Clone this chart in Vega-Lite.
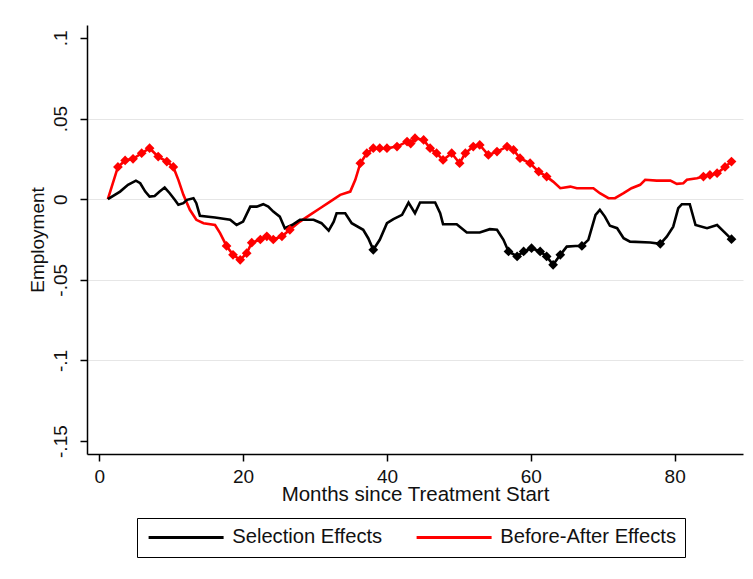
{
  "$schema": "https://vega.github.io/schema/vega-lite/v6.json",
  "width": 656,
  "height": 429,
  "autosize": "none",
  "padding": {"left": 87, "top": 25, "right": 10, "bottom": 125},
  "background": "white",
  "config": {
    "view": {"stroke": null},
    "font": "Liberation Sans",
    "axis": {
      "labelFont": "Liberation Sans",
      "titleFont": "Liberation Sans",
      "labelFontSize": 19,
      "titleFontSize": 20.5,
      "titleFontWeight": "normal",
      "labelColor": "#111111",
      "titleColor": "#111111",
      "domainColor": "#000000",
      "tickColor": "#000000",
      "domainWidth": 1.5,
      "tickWidth": 1.5,
      "tickSize": 7
    },
    "legend": {
      "labelFont": "Liberation Sans",
      "labelFontSize": 20.2,
      "labelColor": "#111111"
    }
  },
  "data": {
    "values": [
      {"series": "Before-After Effects", "month": 1.2, "value": 0, "sig": 0},
      {"series": "Before-After Effects", "month": 2.6, "value": 0.020, "sig": 1},
      {"series": "Before-After Effects", "month": 3.6, "value": 0.024, "sig": 1},
      {"series": "Before-After Effects", "month": 4.7, "value": 0.025, "sig": 1},
      {"series": "Before-After Effects", "month": 5.9, "value": 0.0285, "sig": 1},
      {"series": "Before-After Effects", "month": 7.0, "value": 0.0316, "sig": 1},
      {"series": "Before-After Effects", "month": 8.2, "value": 0.0264, "sig": 1},
      {"series": "Before-After Effects", "month": 9.4, "value": 0.0233, "sig": 1},
      {"series": "Before-After Effects", "month": 10.3, "value": 0.020, "sig": 1},
      {"series": "Before-After Effects", "month": 11.0, "value": 0.012, "sig": 0},
      {"series": "Before-After Effects", "month": 11.7, "value": 0.0027, "sig": 0},
      {"series": "Before-After Effects", "month": 12.6, "value": -0.0066, "sig": 0},
      {"series": "Before-After Effects", "month": 13.5, "value": -0.0128, "sig": 0},
      {"series": "Before-After Effects", "month": 14.5, "value": -0.0149, "sig": 0},
      {"series": "Before-After Effects", "month": 16.1, "value": -0.016, "sig": 0},
      {"series": "Before-After Effects", "month": 16.8, "value": -0.021, "sig": 0},
      {"series": "Before-After Effects", "month": 17.7, "value": -0.029, "sig": 1},
      {"series": "Before-After Effects", "month": 18.6, "value": -0.0345, "sig": 1},
      {"series": "Before-After Effects", "month": 19.6, "value": -0.0376, "sig": 1},
      {"series": "Before-After Effects", "month": 20.5, "value": -0.0335, "sig": 1},
      {"series": "Before-After Effects", "month": 21.2, "value": -0.027, "sig": 1},
      {"series": "Before-After Effects", "month": 22.4, "value": -0.025, "sig": 1},
      {"series": "Before-After Effects", "month": 23.3, "value": -0.023, "sig": 1},
      {"series": "Before-After Effects", "month": 24.2, "value": -0.025, "sig": 1},
      {"series": "Before-After Effects", "month": 25.4, "value": -0.023, "sig": 1},
      {"series": "Before-After Effects", "month": 26.5, "value": -0.019, "sig": 1},
      {"series": "Before-After Effects", "month": 27.9, "value": -0.0139, "sig": 0},
      {"series": "Before-After Effects", "month": 29.3, "value": -0.0097, "sig": 0},
      {"series": "Before-After Effects", "month": 30.7, "value": -0.0056, "sig": 0},
      {"series": "Before-After Effects", "month": 32.1, "value": -0.0015, "sig": 0},
      {"series": "Before-After Effects", "month": 33.5, "value": 0.0027, "sig": 0},
      {"series": "Before-After Effects", "month": 34.9, "value": 0.0047, "sig": 0},
      {"series": "Before-After Effects", "month": 35.6, "value": 0.012, "sig": 0},
      {"series": "Before-After Effects", "month": 36.3, "value": 0.0223, "sig": 1},
      {"series": "Before-After Effects", "month": 37.2, "value": 0.0285, "sig": 1},
      {"series": "Before-After Effects", "month": 38.1, "value": 0.0316, "sig": 1},
      {"series": "Before-After Effects", "month": 39.0, "value": 0.0316, "sig": 1},
      {"series": "Before-After Effects", "month": 40.0, "value": 0.0316, "sig": 1},
      {"series": "Before-After Effects", "month": 41.4, "value": 0.0326, "sig": 1},
      {"series": "Before-After Effects", "month": 42.8, "value": 0.0357, "sig": 1},
      {"series": "Before-After Effects", "month": 43.3, "value": 0.0345, "sig": 1},
      {"series": "Before-After Effects", "month": 43.9, "value": 0.0378, "sig": 1},
      {"series": "Before-After Effects", "month": 45.1, "value": 0.0367, "sig": 1},
      {"series": "Before-After Effects", "month": 46.0, "value": 0.0316, "sig": 1},
      {"series": "Before-After Effects", "month": 46.9, "value": 0.0285, "sig": 1},
      {"series": "Before-After Effects", "month": 47.8, "value": 0.0243, "sig": 1},
      {"series": "Before-After Effects", "month": 49.0, "value": 0.0285, "sig": 1},
      {"series": "Before-After Effects", "month": 50.1, "value": 0.0223, "sig": 1},
      {"series": "Before-After Effects", "month": 50.9, "value": 0.0285, "sig": 1},
      {"series": "Before-After Effects", "month": 52.0, "value": 0.0326, "sig": 1},
      {"series": "Before-After Effects", "month": 52.9, "value": 0.0336, "sig": 1},
      {"series": "Before-After Effects", "month": 54.1, "value": 0.0274, "sig": 1},
      {"series": "Before-After Effects", "month": 55.3, "value": 0.0295, "sig": 1},
      {"series": "Before-After Effects", "month": 56.7, "value": 0.0326, "sig": 1},
      {"series": "Before-After Effects", "month": 57.6, "value": 0.0305, "sig": 1},
      {"series": "Before-After Effects", "month": 58.5, "value": 0.0254, "sig": 1},
      {"series": "Before-After Effects", "month": 59.9, "value": 0.0223, "sig": 1},
      {"series": "Before-After Effects", "month": 61.1, "value": 0.0171, "sig": 1},
      {"series": "Before-After Effects", "month": 62.2, "value": 0.014, "sig": 1},
      {"series": "Before-After Effects", "month": 63.1, "value": 0.0109, "sig": 0},
      {"series": "Before-After Effects", "month": 64.1, "value": 0.0068, "sig": 0},
      {"series": "Before-After Effects", "month": 65.5, "value": 0.0078, "sig": 0},
      {"series": "Before-After Effects", "month": 66.4, "value": 0.0068, "sig": 0},
      {"series": "Before-After Effects", "month": 68.7, "value": 0.0068, "sig": 0},
      {"series": "Before-After Effects", "month": 69.6, "value": 0.0037, "sig": 0},
      {"series": "Before-After Effects", "month": 70.8, "value": 0.0006, "sig": 0},
      {"series": "Before-After Effects", "month": 71.7, "value": 0.0006, "sig": 0},
      {"series": "Before-After Effects", "month": 72.9, "value": 0.0037, "sig": 0},
      {"series": "Before-After Effects", "month": 74.0, "value": 0.0068, "sig": 0},
      {"series": "Before-After Effects", "month": 75.2, "value": 0.0089, "sig": 0},
      {"series": "Before-After Effects", "month": 75.9, "value": 0.012, "sig": 0},
      {"series": "Before-After Effects", "month": 77.5, "value": 0.0115, "sig": 0},
      {"series": "Before-After Effects", "month": 79.4, "value": 0.0115, "sig": 0},
      {"series": "Before-After Effects", "month": 80.3, "value": 0.0095, "sig": 0},
      {"series": "Before-After Effects", "month": 81.2, "value": 0.0099, "sig": 0},
      {"series": "Before-After Effects", "month": 81.7, "value": 0.012, "sig": 0},
      {"series": "Before-After Effects", "month": 83.1, "value": 0.013, "sig": 0},
      {"series": "Before-After Effects", "month": 84.0, "value": 0.014, "sig": 1},
      {"series": "Before-After Effects", "month": 84.9, "value": 0.015, "sig": 1},
      {"series": "Before-After Effects", "month": 85.9, "value": 0.0161, "sig": 1},
      {"series": "Before-After Effects", "month": 87.0, "value": 0.020, "sig": 1},
      {"series": "Before-After Effects", "month": 87.9, "value": 0.0233, "sig": 1},

      {"series": "Selection Effects", "month": 1.2, "value": 0, "sig": 0},
      {"series": "Selection Effects", "month": 2.9, "value": 0.0047, "sig": 0},
      {"series": "Selection Effects", "month": 4.0, "value": 0.0089, "sig": 0},
      {"series": "Selection Effects", "month": 5.1, "value": 0.0115, "sig": 0},
      {"series": "Selection Effects", "month": 5.7, "value": 0.0099, "sig": 0},
      {"series": "Selection Effects", "month": 6.4, "value": 0.0047, "sig": 0},
      {"series": "Selection Effects", "month": 7.0, "value": 0.0016, "sig": 0},
      {"series": "Selection Effects", "month": 7.7, "value": 0.002, "sig": 0},
      {"series": "Selection Effects", "month": 8.4, "value": 0.0047, "sig": 0},
      {"series": "Selection Effects", "month": 9.1, "value": 0.0072, "sig": 0},
      {"series": "Selection Effects", "month": 9.8, "value": 0.0037, "sig": 0},
      {"series": "Selection Effects", "month": 10.5, "value": -0.0004, "sig": 0},
      {"series": "Selection Effects", "month": 11.0, "value": -0.0035, "sig": 0},
      {"series": "Selection Effects", "month": 11.7, "value": -0.0025, "sig": 0},
      {"series": "Selection Effects", "month": 12.2, "value": -0.0004, "sig": 0},
      {"series": "Selection Effects", "month": 13.1, "value": 0.0006, "sig": 0},
      {"series": "Selection Effects", "month": 13.5, "value": -0.0025, "sig": 0},
      {"series": "Selection Effects", "month": 14.0, "value": -0.0103, "sig": 0},
      {"series": "Selection Effects", "month": 16.1, "value": -0.0114, "sig": 0},
      {"series": "Selection Effects", "month": 18.2, "value": -0.0128, "sig": 0},
      {"series": "Selection Effects", "month": 19.1, "value": -0.016, "sig": 0},
      {"series": "Selection Effects", "month": 20.0, "value": -0.0139, "sig": 0},
      {"series": "Selection Effects", "month": 21.0, "value": -0.0046, "sig": 0},
      {"series": "Selection Effects", "month": 21.9, "value": -0.0046, "sig": 0},
      {"series": "Selection Effects", "month": 22.8, "value": -0.0031, "sig": 0},
      {"series": "Selection Effects", "month": 23.5, "value": -0.0046, "sig": 0},
      {"series": "Selection Effects", "month": 24.2, "value": -0.0077, "sig": 0},
      {"series": "Selection Effects", "month": 25.1, "value": -0.0108, "sig": 0},
      {"series": "Selection Effects", "month": 25.8, "value": -0.018, "sig": 0},
      {"series": "Selection Effects", "month": 26.8, "value": -0.016, "sig": 0},
      {"series": "Selection Effects", "month": 27.9, "value": -0.0128, "sig": 0},
      {"series": "Selection Effects", "month": 29.8, "value": -0.0128, "sig": 0},
      {"series": "Selection Effects", "month": 30.9, "value": -0.0149, "sig": 0},
      {"series": "Selection Effects", "month": 31.9, "value": -0.0195, "sig": 0},
      {"series": "Selection Effects", "month": 32.6, "value": -0.0139, "sig": 0},
      {"series": "Selection Effects", "month": 33.0, "value": -0.0087, "sig": 0},
      {"series": "Selection Effects", "month": 34.2, "value": -0.0087, "sig": 0},
      {"series": "Selection Effects", "month": 35.1, "value": -0.0149, "sig": 0},
      {"series": "Selection Effects", "month": 36.7, "value": -0.019, "sig": 0},
      {"series": "Selection Effects", "month": 37.4, "value": -0.0242, "sig": 0},
      {"series": "Selection Effects", "month": 38.1, "value": -0.0314, "sig": 1},
      {"series": "Selection Effects", "month": 39.0, "value": -0.0252, "sig": 0},
      {"series": "Selection Effects", "month": 40.0, "value": -0.0149, "sig": 0},
      {"series": "Selection Effects", "month": 40.9, "value": -0.0124, "sig": 0},
      {"series": "Selection Effects", "month": 42.1, "value": -0.0097, "sig": 0},
      {"series": "Selection Effects", "month": 43.0, "value": -0.0021, "sig": 0},
      {"series": "Selection Effects", "month": 43.9, "value": -0.0087, "sig": 0},
      {"series": "Selection Effects", "month": 44.6, "value": -0.0021, "sig": 0},
      {"series": "Selection Effects", "month": 46.7, "value": -0.0021, "sig": 0},
      {"series": "Selection Effects", "month": 47.4, "value": -0.0087, "sig": 0},
      {"series": "Selection Effects", "month": 47.8, "value": -0.0155, "sig": 0},
      {"series": "Selection Effects", "month": 49.7, "value": -0.0155, "sig": 0},
      {"series": "Selection Effects", "month": 51.1, "value": -0.0207, "sig": 0},
      {"series": "Selection Effects", "month": 52.9, "value": -0.0207, "sig": 0},
      {"series": "Selection Effects", "month": 54.3, "value": -0.0186, "sig": 0},
      {"series": "Selection Effects", "month": 55.3, "value": -0.019, "sig": 0},
      {"series": "Selection Effects", "month": 56.2, "value": -0.0252, "sig": 0},
      {"series": "Selection Effects", "month": 56.9, "value": -0.0324, "sig": 1},
      {"series": "Selection Effects", "month": 58.1, "value": -0.0355, "sig": 1},
      {"series": "Selection Effects", "month": 59.0, "value": -0.0324, "sig": 1},
      {"series": "Selection Effects", "month": 60.1, "value": -0.0304, "sig": 1},
      {"series": "Selection Effects", "month": 61.3, "value": -0.0324, "sig": 1},
      {"series": "Selection Effects", "month": 62.2, "value": -0.0355, "sig": 1},
      {"series": "Selection Effects", "month": 63.1, "value": -0.0407, "sig": 1},
      {"series": "Selection Effects", "month": 64.1, "value": -0.0345, "sig": 1},
      {"series": "Selection Effects", "month": 65.0, "value": -0.0294, "sig": 0},
      {"series": "Selection Effects", "month": 66.2, "value": -0.029, "sig": 0},
      {"series": "Selection Effects", "month": 67.1, "value": -0.029, "sig": 1},
      {"series": "Selection Effects", "month": 68.0, "value": -0.0252, "sig": 0},
      {"series": "Selection Effects", "month": 69.0, "value": -0.0097, "sig": 0},
      {"series": "Selection Effects", "month": 69.6, "value": -0.0066, "sig": 0},
      {"series": "Selection Effects", "month": 70.3, "value": -0.0108, "sig": 0},
      {"series": "Selection Effects", "month": 71.0, "value": -0.0165, "sig": 0},
      {"series": "Selection Effects", "month": 72.0, "value": -0.018, "sig": 0},
      {"series": "Selection Effects", "month": 72.9, "value": -0.0242, "sig": 0},
      {"series": "Selection Effects", "month": 73.8, "value": -0.0263, "sig": 0},
      {"series": "Selection Effects", "month": 76.6, "value": -0.0269, "sig": 0},
      {"series": "Selection Effects", "month": 78.0, "value": -0.0277, "sig": 1},
      {"series": "Selection Effects", "month": 78.9, "value": -0.0232, "sig": 0},
      {"series": "Selection Effects", "month": 79.8, "value": -0.017, "sig": 0},
      {"series": "Selection Effects", "month": 80.5, "value": -0.0056, "sig": 0},
      {"series": "Selection Effects", "month": 81.0, "value": -0.0031, "sig": 0},
      {"series": "Selection Effects", "month": 82.1, "value": -0.0031, "sig": 0},
      {"series": "Selection Effects", "month": 82.9, "value": -0.016, "sig": 0},
      {"series": "Selection Effects", "month": 84.5, "value": -0.018, "sig": 0},
      {"series": "Selection Effects", "month": 85.9, "value": -0.016, "sig": 0},
      {"series": "Selection Effects", "month": 86.8, "value": -0.020, "sig": 0},
      {"series": "Selection Effects", "month": 87.9, "value": -0.0248, "sig": 1}
    ]
  },
  "encoding": {
    "x": {
      "field": "month",
      "type": "quantitative",
      "scale": {"domain": [-1.7, 89.5], "nice": false, "zero": false},
      "axis": {
        "values": [0, 20, 40, 60, 80],
        "grid": false,
        "title": "Months since Treatment Start",
        "labelPadding": 6,
        "titlePadding": -2
      }
    },
    "y": {
      "field": "value",
      "type": "quantitative",
      "scale": {"domain": [-0.158, 0.108], "nice": false, "zero": false},
      "axis": {
        "values": [0.1, 0.05, 0, -0.05, -0.1, -0.15],
        "title": "Employment",
        "titleFontSize": 19,
        "labelExpr": "datum.value == 0 ? '0' : replace(replace(format(datum.value, '.2~f'), '0.', '.'), '\u2212', '-')",
        "labelAngle": -90,
        "labelAlign": "center",
        "labelBaseline": "bottom",
        "labelPadding": 10,
        "titlePadding": 4,
        "grid": true,
        "gridColor": {"condition": {"test": "datum.value > 0.09 || datum.value < -0.14", "value": "transparent"}, "value": "#e6e6e6"},
        "gridWidth": 1
      }
    },
    "color": {
      "field": "series",
      "type": "nominal",
      "scale": {"domain": ["Selection Effects", "Before-After Effects"], "range": ["#000000", "#ff0000"]}
    }
  },
  "layer": [
    {
      "mark": {"type": "line", "strokeWidth": 2.6},
      "encoding": {
        "order": {"field": "month", "type": "quantitative"},
        "color": {
          "field": "series",
          "type": "nominal",
          "scale": {"domain": ["Selection Effects", "Before-After Effects"], "range": ["#000000", "#ff0000"]},
          "legend": {
            "title": null,
            "orient": "none",
            "legendX": 50,
            "legendY": 493,
            "direction": "horizontal",
            "symbolType": "M-1,0H9",
            "symbolSize": 225,
            "symbolStrokeWidth": 3,
            "labelOffset": 66,
            "labelLimit": 0,
            "columnPadding": 27,
            "padding": 9,
            "strokeColor": "#000000",
            "fillColor": "#ffffff",
            "labelFontSize": 20.2
          }
        }
      }
    },
    {
      "transform": [{"filter": "datum.sig == 1"}],
      "mark": {"type": "point", "shape": "diamond", "filled": true, "size": 95, "opacity": 1},
      "encoding": {
        "color": {"field": "series", "type": "nominal", "legend": null}
      }
    }
  ]
}
